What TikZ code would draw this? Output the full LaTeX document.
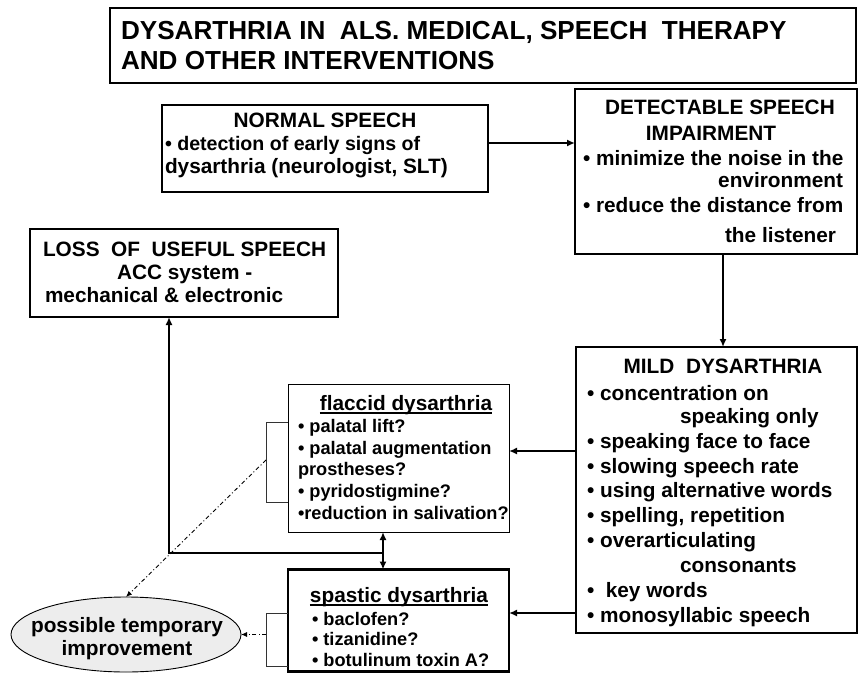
\documentclass[tikz,border=0pt]{standalone}
\usepackage{fontspec}
\setmainfont{Liberation Sans}
\usetikzlibrary{arrows.meta,shapes.geometric}

% heavy underline for the sub-box headings
\newcommand{\heavyul}[1]{\leavevmode\setbox0\hbox{#1}\rlap{\vrule width\wd0 height -1.9pt depth 3.6pt}\box0}

\tikzset{
  box/.style={draw, rectangle, line width=2pt, inner sep=0pt, outer sep=0pt},
  thinbox/.style={box, line width=1pt},
  txt/.style={inner sep=0pt, outer sep=0pt, font=\bfseries\fontsize{20.8}{24}\selectfont},
  sm/.style={txt, font=\bfseries\fontsize{18.2}{21}\selectfont},
  big/.style={txt, font=\bfseries\fontsize{26.1}{30}\selectfont},
  lt/.style={anchor=base west},
  rt/.style={anchor=base east},
  ct/.style={anchor=base},
  conn/.style={line width=2.6pt, -{Latex[length=8pt,width=7pt]}},
  plain/.style={line width=2.6pt},
  twoway/.style={line width=2.6pt, {Latex[length=8pt,width=7pt]}-{Latex[length=8pt,width=7pt]}},
  brk/.style={line width=0.9pt, draw=black!80},
  dashdot/.style={line width=0.9pt, dash pattern=on 4pt off 2.5pt on 1pt off 2.5pt,
                  -{Latex[length=6pt,width=5pt]}},
}

\begin{document}
\begin{tikzpicture}[x=1pt,y=-1pt]
\useasboundingbox (0,0) rectangle (859,674);

% ---------- frames ----------
\node[box, minimum width=746, minimum height=75] (title) at (483,45.5) {};
\node[box, minimum width=326, minimum height=87] (normal) at (325,148.5) {};
\node[box, minimum width=282, minimum height=165] (detect) at (716,171.5) {};
\node[box, minimum width=308, minimum height=88] (loss) at (184,273) {};
\node[box, minimum width=281, minimum height=286] (mild) at (716.5,490) {};
\node[thinbox, minimum width=221, minimum height=148] (flaccid) at (398.5,458) {};
\node[box, line width=2.5pt, minimum width=221, minimum height=102] (spastic) at (398.5,620.5) {};
\node[draw, ellipse, line width=0.9pt, fill=black!7, inner sep=0pt, outer sep=0pt,
      minimum width=230, minimum height=75] (ell) at (126,634.5) {};

% ---------- title ----------
\node[big, lt] (ti1) at (121,40) {DYSARTHRIA IN\ \ ALS. MEDICAL, SPEECH\ \ THERAPY};
\node[big, lt] (ti2) at (121,70) {AND OTHER INTERVENTIONS};

% ---------- normal speech ----------
\node[txt, ct] (no1) at (325,128) {NORMAL SPEECH};
\node[txt, lt, font=\bfseries\fontsize{19.6}{24}\selectfont] (no2) at (165,150) {• detection of early signs of};
\node[txt, lt] (no3) at (165,173) {dysarthria (neurologist, SLT)};

% ---------- detectable impairment ----------
\node[txt, ct] (de1) at (720,115) {DETECTABLE SPEECH};
\node[txt, ct] (de2) at (711,141) {IMPAIRMENT};
\node[txt, lt] (de3) at (583,165) {• minimize the noise in the};
\node[txt, rt] (de4) at (843,187) {environment};
\node[txt, lt] (de5) at (583,212) {• reduce the distance from};
\node[txt, rt] (de6) at (836,242) {the listener};

% ---------- loss of useful speech ----------
\node[txt, lt] (lo1) at (43,256) {LOSS\ \ OF\ \ USEFUL SPEECH};
\node[txt, lt] (lo2) at (117,279) {ACC system -};
\node[txt, lt] (lo3) at (45,302) {mechanical \& electronic};

% ---------- mild dysarthria ----------
\node[txt, ct] (mi0) at (723,373) {MILD\ \ DYSARTHRIA};
\node[txt, lt] (mi1) at (587,400) {• concentration on};
\node[txt, lt] (mi2) at (680,423) {speaking only};
\node[txt, lt] (mi3) at (587,448) {• speaking face to face};
\node[txt, lt] (mi4) at (587,473) {• slowing speech rate};
\node[txt, lt] (mi5) at (587,497) {• using alternative words};
\node[txt, lt] (mi6) at (587,522) {• spelling, repetition};
\node[txt, lt] (mi7) at (587,547) {• overarticulating};
\node[txt, lt] (mi8) at (680,572) {consonants};
\node[txt, lt] (mi9) at (587,597) {•\ \ key words};
\node[txt, lt] (mi10) at (587,622) {• monosyllabic speech};

% ---------- flaccid dysarthria ----------
\node[txt, ct] (fl0) at (406,410) {\heavyul{flaccid dysarthria}};
\node[sm, lt] (fl1) at (298,432) {• palatal lift?};
\node[sm, lt] (fl2) at (298,454) {• palatal augmentation};
\node[sm, lt] (fl3) at (298,475) {prostheses?};
\node[sm, lt] (fl4) at (298,497) {• pyridostigmine?};
\node[sm, lt] (fl5) at (298,519) {•reduction in salivation?};

% ---------- spastic dysarthria ----------
\node[txt, ct] (sp0) at (399,602) {\heavyul{spastic dysarthria}};
\node[sm, lt] (sp1) at (312,625) {• baclofen?};
\node[sm, lt] (sp2) at (312,645) {• tizanidine?};
\node[sm, lt] (sp3) at (312,666) {• botulinum toxin A?};

% ---------- temporary improvement ----------
\node[txt, ct] (el1) at (127,632) {possible temporary};
\node[txt, ct] (el2) at (127,655) {improvement};

% ---------- connectors ----------
\coordinate (na) at ([yshift=5.5pt]normal.east);
\draw[conn] (na) -- (na -| detect.west);

\coordinate (da) at ([xshift=7pt]detect.south);
\draw[conn] (da) -- (da |- mild.north);

\coordinate (m1) at (mild.west |- 0,451);
\draw[conn] (m1) -- (m1 -| flaccid.east);
\coordinate (m2) at (mild.west |- 0,613);
\draw[conn] (m2) -- (m2 -| spastic.east);

\coordinate (fs) at (383,553);
\draw[twoway] (fs |- flaccid.south) -- (fs |- spastic.north);
\coordinate (jn) at (169,553);
\draw[plain] (fs) -- (jn);
\draw[conn] ([yshift=-1.3pt]jn) -- (jn |- loss.south);

% brackets and dash-dot links to the improvement ellipse
\draw[brk] (flaccid.west |- 0,422) -- (266,422) -- (266,502) -- (flaccid.west |- 0,502);
\draw[brk] (spastic.west |- 0,613) -- (266,613) -- (266,666) -- (spastic.west |- 0,666);
\coordinate (b1) at (266,460);
\coordinate (b2) at (266,634.5);
\draw[dashdot] (b1) -- (ell.north);
\draw[dashdot] (b2) -- (ell.east);
\end{tikzpicture}
\end{document}
